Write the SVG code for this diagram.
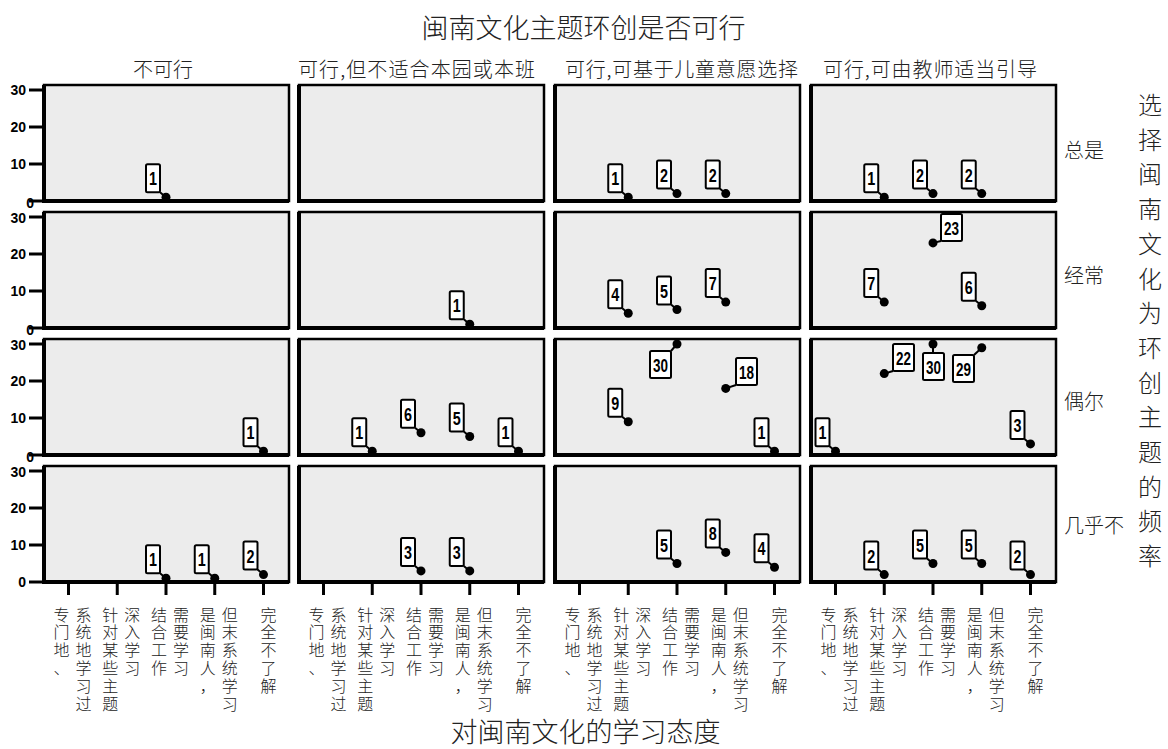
<svg xmlns="http://www.w3.org/2000/svg" width="1168" height="749" viewBox="0 0 1168 749">
<style>
.bg{fill:#ffffff}
.panel{fill:#ececec;stroke:#000;stroke-width:2.5}
.axis{stroke:#000;stroke-width:4;fill:none}
.tick{stroke:#000;stroke-width:3}
.pt{fill:#000}
.box{fill:#fff;stroke:#000;stroke-width:2}
.lead{stroke:#000;stroke-width:2;fill:none}
.num{font-family:"Liberation Sans",Arial,sans-serif;font-weight:bold;font-size:19px;text-anchor:middle;fill:#000}
.ynum{font-family:"Liberation Sans",Arial,sans-serif;font-weight:bold;font-size:14px;text-anchor:end;dominant-baseline:central;fill:#000}
.cjk{font-family:"Noto Sans CJK SC","Noto Sans",sans-serif;font-weight:300;fill:#222;dominant-baseline:central}
.t1{font-size:27px;text-anchor:middle}
.t2{font-size:20px}
.t3{font-size:24px;text-anchor:middle}
.xl{font-size:16px;text-anchor:middle}
</style>
<rect class="bg" x="0" y="0" width="1168" height="749"/>

<g id="titles">
<text class="cjk t1" x="583.5" y="26.5">闽南文化主题环创是否可行</text>
<text class="cjk t2" x="163" y="68.5" text-anchor="middle">不可行</text>
<text class="cjk t2" x="298" y="68.5" textLength="237" lengthAdjust="spacing">可行,但不适合本园或本班</text>
<text class="cjk t2" x="565" y="68.5" textLength="233" lengthAdjust="spacing">可行,可基于儿童意愿选择</text>
<text class="cjk t2" x="823" y="68.5" textLength="214" lengthAdjust="spacing">可行,可由教师适当引导</text>
<text class="cjk t2" x="1064" y="149">总是</text>
<text class="cjk t2" x="1064" y="274">经常</text>
<text class="cjk t2" x="1064" y="400">偶尔</text>
<text class="cjk t2" x="1064" y="524">几乎不</text>
<text class="cjk t3" x="1150 1150 1150 1150 1150 1150 1150 1150 1150 1150 1150 1150 1150 1150" y="103.5 138.2 172.9 207.6 242.3 277 311.7 346.4 381.1 415.8 450.5 485.2 519.9 554.6">选择闽南文化为环创主题的频率</text>
<text class="cjk t1" x="585.5" y="730" font-size="26">对闽南文化的学习态度</text>
</g>

<g id="y-axis">
<g class="tick">
<line x1="29" y1="90" x2="44" y2="90"/><line x1="29" y1="127" x2="44" y2="127"/><line x1="29" y1="164" x2="44" y2="164"/>
<line x1="29" y1="217" x2="44" y2="217"/><line x1="29" y1="254" x2="44" y2="254"/><line x1="29" y1="291" x2="44" y2="291"/>
<line x1="29" y1="344" x2="44" y2="344"/><line x1="29" y1="381" x2="44" y2="381"/><line x1="29" y1="418" x2="44" y2="418"/>
<line x1="29" y1="471" x2="44" y2="471"/><line x1="29" y1="508" x2="44" y2="508"/><line x1="29" y1="545" x2="44" y2="545"/>
<line x1="29" y1="201" x2="44" y2="201"/><line x1="29" y1="328" x2="44" y2="328"/><line x1="29" y1="455" x2="44" y2="455"/><line x1="29" y1="582" x2="44" y2="582"/>
</g>
<text class="ynum" x="26" y="90">30</text><text class="ynum" x="26" y="127">20</text><text class="ynum" x="26" y="164">10</text><text class="ynum" x="34" y="203">0</text>
<text class="ynum" x="26" y="218">30</text><text class="ynum" x="26" y="254">20</text><text class="ynum" x="26" y="291">10</text><text class="ynum" x="34" y="330">0</text>
<text class="ynum" x="26" y="345">30</text><text class="ynum" x="26" y="381">20</text><text class="ynum" x="26" y="418">10</text><text class="ynum" x="34" y="457">0</text>
<text class="ynum" x="26" y="472">30</text><text class="ynum" x="26" y="508">20</text><text class="ynum" x="26" y="545">10</text><text class="ynum" x="26" y="582">0</text>
</g>

<g id="panels">
<g id="panel-r1-c1"><rect class="panel" x="44" y="85" width="245" height="116"/><path class="axis" d="M44,85V201H289"/></g>
<g id="panel-r1-c2"><rect class="panel" x="299" y="85" width="245" height="116"/><path class="axis" d="M299,85V201H544"/></g>
<g id="panel-r1-c3"><rect class="panel" x="555" y="85" width="245" height="116"/><path class="axis" d="M555,85V201H800"/></g>
<g id="panel-r1-c4"><rect class="panel" x="811" y="85" width="245" height="116"/><path class="axis" d="M811,85V201H1056"/></g>
<g id="panel-r2-c1"><rect class="panel" x="44" y="212" width="245" height="116"/><path class="axis" d="M44,212V328H289"/></g>
<g id="panel-r2-c2"><rect class="panel" x="299" y="212" width="245" height="116"/><path class="axis" d="M299,212V328H544"/></g>
<g id="panel-r2-c3"><rect class="panel" x="555" y="212" width="245" height="116"/><path class="axis" d="M555,212V328H800"/></g>
<g id="panel-r2-c4"><rect class="panel" x="811" y="212" width="245" height="116"/><path class="axis" d="M811,212V328H1056"/></g>
<g id="panel-r3-c1"><rect class="panel" x="44" y="339" width="245" height="116"/><path class="axis" d="M44,339V455H289"/></g>
<g id="panel-r3-c2"><rect class="panel" x="299" y="339" width="245" height="116"/><path class="axis" d="M299,339V455H544"/></g>
<g id="panel-r3-c3"><rect class="panel" x="555" y="339" width="245" height="116"/><path class="axis" d="M555,339V455H800"/></g>
<g id="panel-r3-c4"><rect class="panel" x="811" y="339" width="245" height="116"/><path class="axis" d="M811,339V455H1056"/></g>
<g id="panel-r4-c1"><rect class="panel" x="44" y="466" width="245" height="116"/><path class="axis" d="M44,466V582H289"/></g>
<g id="panel-r4-c2"><rect class="panel" x="299" y="466" width="245" height="116"/><path class="axis" d="M299,466V582H544"/></g>
<g id="panel-r4-c3"><rect class="panel" x="555" y="466" width="245" height="116"/><path class="axis" d="M555,466V582H800"/></g>
<g id="panel-r4-c4"><rect class="panel" x="811" y="466" width="245" height="116"/><path class="axis" d="M811,466V582H1056"/></g>
</g>

<g id="x-ticks" class="tick">
<line x1="68.5" y1="583" x2="68.5" y2="595"/><line x1="117.25" y1="583" x2="117.25" y2="595"/><line x1="166" y1="583" x2="166" y2="595"/><line x1="214.75" y1="583" x2="214.75" y2="595"/><line x1="263.5" y1="583" x2="263.5" y2="595"/>
<line x1="323.5" y1="583" x2="323.5" y2="595"/><line x1="372.25" y1="583" x2="372.25" y2="595"/><line x1="421" y1="583" x2="421" y2="595"/><line x1="469.75" y1="583" x2="469.75" y2="595"/><line x1="518.5" y1="583" x2="518.5" y2="595"/>
<line x1="579.5" y1="583" x2="579.5" y2="595"/><line x1="628.25" y1="583" x2="628.25" y2="595"/><line x1="677" y1="583" x2="677" y2="595"/><line x1="725.75" y1="583" x2="725.75" y2="595"/><line x1="774.5" y1="583" x2="774.5" y2="595"/>
<line x1="835.5" y1="583" x2="835.5" y2="595"/><line x1="884.25" y1="583" x2="884.25" y2="595"/><line x1="933" y1="583" x2="933" y2="595"/><line x1="981.75" y1="583" x2="981.75" y2="595"/><line x1="1030.5" y1="583" x2="1030.5" y2="595"/>
</g>

<g id="x-labels">
<text class="cjk xl" x="61.5 61.5 61.5 61.5" y="613.5 631.3 649.1 666.9">专门地、</text>
<text class="cjk xl" x="83.5 83.5 83.5 83.5 83.5 83.5" y="613.5 631.3 649.1 666.9 684.7 702.5">系统地学习过</text>
<text class="cjk xl" x="110.25 110.25 110.25 110.25 110.25 110.25" y="613.5 631.3 649.1 666.9 684.7 702.5">针对某些主题</text>
<text class="cjk xl" x="132.25 132.25 132.25 132.25" y="613.5 631.3 649.1 666.9">深入学习</text>
<text class="cjk xl" x="159 159 159 159" y="613.5 631.3 649.1 666.9">结合工作</text>
<text class="cjk xl" x="181 181 181 181" y="613.5 631.3 649.1 666.9">需要学习</text>
<text class="cjk xl" x="207.75 207.75 207.75 207.75 207.75" y="613.5 631.3 649.1 666.9 684.7">是闽南人，</text>
<text class="cjk xl" x="229.75 229.75 229.75 229.75 229.75 229.75" y="613.5 631.3 649.1 666.9 684.7 702.5">但末系统学习</text>
<text class="cjk xl" x="268.5 268.5 268.5 268.5 268.5" y="613.5 631.3 649.1 666.9 684.7">完全不了解</text>

<text class="cjk xl" x="316.5 316.5 316.5 316.5" y="613.5 631.3 649.1 666.9">专门地、</text>
<text class="cjk xl" x="338.5 338.5 338.5 338.5 338.5 338.5" y="613.5 631.3 649.1 666.9 684.7 702.5">系统地学习过</text>
<text class="cjk xl" x="365.25 365.25 365.25 365.25 365.25 365.25" y="613.5 631.3 649.1 666.9 684.7 702.5">针对某些主题</text>
<text class="cjk xl" x="387.25 387.25 387.25 387.25" y="613.5 631.3 649.1 666.9">深入学习</text>
<text class="cjk xl" x="414 414 414 414" y="613.5 631.3 649.1 666.9">结合工作</text>
<text class="cjk xl" x="436 436 436 436" y="613.5 631.3 649.1 666.9">需要学习</text>
<text class="cjk xl" x="462.75 462.75 462.75 462.75 462.75" y="613.5 631.3 649.1 666.9 684.7">是闽南人，</text>
<text class="cjk xl" x="484.75 484.75 484.75 484.75 484.75 484.75" y="613.5 631.3 649.1 666.9 684.7 702.5">但末系统学习</text>
<text class="cjk xl" x="523.5 523.5 523.5 523.5 523.5" y="613.5 631.3 649.1 666.9 684.7">完全不了解</text>

<text class="cjk xl" x="572.5 572.5 572.5 572.5" y="613.5 631.3 649.1 666.9">专门地、</text>
<text class="cjk xl" x="594.5 594.5 594.5 594.5 594.5 594.5" y="613.5 631.3 649.1 666.9 684.7 702.5">系统地学习过</text>
<text class="cjk xl" x="621.25 621.25 621.25 621.25 621.25 621.25" y="613.5 631.3 649.1 666.9 684.7 702.5">针对某些主题</text>
<text class="cjk xl" x="643.25 643.25 643.25 643.25" y="613.5 631.3 649.1 666.9">深入学习</text>
<text class="cjk xl" x="670 670 670 670" y="613.5 631.3 649.1 666.9">结合工作</text>
<text class="cjk xl" x="692 692 692 692" y="613.5 631.3 649.1 666.9">需要学习</text>
<text class="cjk xl" x="718.75 718.75 718.75 718.75 718.75" y="613.5 631.3 649.1 666.9 684.7">是闽南人，</text>
<text class="cjk xl" x="740.75 740.75 740.75 740.75 740.75 740.75" y="613.5 631.3 649.1 666.9 684.7 702.5">但末系统学习</text>
<text class="cjk xl" x="779.5 779.5 779.5 779.5 779.5" y="613.5 631.3 649.1 666.9 684.7">完全不了解</text>

<text class="cjk xl" x="828.5 828.5 828.5 828.5" y="613.5 631.3 649.1 666.9">专门地、</text>
<text class="cjk xl" x="850.5 850.5 850.5 850.5 850.5 850.5" y="613.5 631.3 649.1 666.9 684.7 702.5">系统地学习过</text>
<text class="cjk xl" x="877.25 877.25 877.25 877.25 877.25 877.25" y="613.5 631.3 649.1 666.9 684.7 702.5">针对某些主题</text>
<text class="cjk xl" x="899.25 899.25 899.25 899.25" y="613.5 631.3 649.1 666.9">深入学习</text>
<text class="cjk xl" x="926 926 926 926" y="613.5 631.3 649.1 666.9">结合工作</text>
<text class="cjk xl" x="948 948 948 948" y="613.5 631.3 649.1 666.9">需要学习</text>
<text class="cjk xl" x="974.75 974.75 974.75 974.75 974.75" y="613.5 631.3 649.1 666.9 684.7">是闽南人，</text>
<text class="cjk xl" x="996.75 996.75 996.75 996.75 996.75 996.75" y="613.5 631.3 649.1 666.9 684.7 702.5">但末系统学习</text>
<text class="cjk xl" x="1035.5 1035.5 1035.5 1035.5 1035.5" y="613.5 631.3 649.1 666.9 684.7">完全不了解</text>
</g>

<g id="connectors" class="lead">
<line x1="160" y1="192.3" x2="166" y2="197.3"/>
<line x1="622.25" y1="192.3" x2="628.25" y2="197.3"/>
<line x1="671" y1="188.6" x2="677" y2="193.6"/>
<line x1="719.75" y1="188.6" x2="725.75" y2="193.6"/>
<line x1="878.25" y1="192.3" x2="884.25" y2="197.3"/>
<line x1="927" y1="188.6" x2="933" y2="193.6"/>
<line x1="975.75" y1="188.6" x2="981.75" y2="193.6"/>
<line x1="463.75" y1="319.3" x2="469.75" y2="324.3"/>
<line x1="622.25" y1="308.2" x2="628.25" y2="313.2"/>
<line x1="671" y1="304.5" x2="677" y2="309.5"/>
<line x1="719.75" y1="297.1" x2="725.75" y2="302.1"/>
<line x1="878.25" y1="297.1" x2="884.25" y2="302.1"/>
<line x1="975.75" y1="300.8" x2="981.75" y2="305.8"/>
<line x1="941" y1="241" x2="933" y2="242.9"/>
<line x1="257.5" y1="446.3" x2="263.5" y2="451.3"/>
<line x1="366.25" y1="446.3" x2="372.25" y2="451.3"/>
<line x1="415" y1="427.8" x2="421" y2="432.8"/>
<line x1="463.75" y1="431.5" x2="469.75" y2="436.5"/>
<line x1="512.5" y1="446.3" x2="518.5" y2="451.3"/>
<line x1="622.25" y1="416.7" x2="628.25" y2="421.7"/>
<line x1="671" y1="351" x2="677" y2="344"/>
<line x1="736" y1="385" x2="725.75" y2="388.4"/>
<line x1="768.5" y1="446.3" x2="774.5" y2="451.3"/>
<line x1="829.5" y1="446.3" x2="835.5" y2="451.3"/>
<line x1="893" y1="371" x2="884.25" y2="373.6"/>
<line x1="933" y1="353" x2="933" y2="344"/>
<line x1="974" y1="355" x2="981.75" y2="347.7"/>
<line x1="1024.5" y1="438.9" x2="1030.5" y2="443.9"/>
<line x1="160" y1="573.3" x2="166" y2="578.3"/>
<line x1="208.75" y1="573.3" x2="214.75" y2="578.3"/>
<line x1="257.5" y1="569.6" x2="263.5" y2="574.6"/>
<line x1="415" y1="565.9" x2="421" y2="570.9"/>
<line x1="463.75" y1="565.9" x2="469.75" y2="570.9"/>
<line x1="671" y1="558.5" x2="677" y2="563.5"/>
<line x1="719.75" y1="547.4" x2="725.75" y2="552.4"/>
<line x1="768.5" y1="562.2" x2="774.5" y2="567.2"/>
<line x1="878.25" y1="569.6" x2="884.25" y2="574.6"/>
<line x1="927" y1="558.5" x2="933" y2="563.5"/>
<line x1="975.75" y1="558.5" x2="981.75" y2="563.5"/>
<line x1="1024.5" y1="569.6" x2="1030.5" y2="574.6"/>
</g>

<g id="points" class="pt">
<circle cx="166" cy="197.3" r="4.5"/><circle cx="628.25" cy="197.3" r="4.5"/><circle cx="677" cy="193.6" r="4.5"/><circle cx="725.75" cy="193.6" r="4.5"/>
<circle cx="884.25" cy="197.3" r="4.5"/><circle cx="933" cy="193.6" r="4.5"/><circle cx="981.75" cy="193.6" r="4.5"/>
<circle cx="469.75" cy="324.3" r="4.5"/><circle cx="628.25" cy="313.2" r="4.5"/><circle cx="677" cy="309.5" r="4.5"/><circle cx="725.75" cy="302.1" r="4.5"/>
<circle cx="884.25" cy="302.1" r="4.5"/><circle cx="933" cy="242.9" r="4.5"/><circle cx="981.75" cy="305.8" r="4.5"/>
<circle cx="263.5" cy="451.3" r="4.5"/><circle cx="372.25" cy="451.3" r="4.5"/><circle cx="421" cy="432.8" r="4.5"/><circle cx="469.75" cy="436.5" r="4.5"/><circle cx="518.5" cy="451.3" r="4.5"/>
<circle cx="628.25" cy="421.7" r="4.5"/><circle cx="677" cy="344" r="4.5"/><circle cx="725.75" cy="388.4" r="4.5"/><circle cx="774.5" cy="451.3" r="4.5"/>
<circle cx="835.5" cy="451.3" r="4.5"/><circle cx="884.25" cy="373.6" r="4.5"/><circle cx="933" cy="344" r="4.5"/><circle cx="981.75" cy="347.7" r="4.5"/><circle cx="1030.5" cy="443.9" r="4.5"/>
<circle cx="166" cy="578.3" r="4.5"/><circle cx="214.75" cy="578.3" r="4.5"/><circle cx="263.5" cy="574.6" r="4.5"/>
<circle cx="421" cy="570.9" r="4.5"/><circle cx="469.75" cy="570.9" r="4.5"/>
<circle cx="677" cy="563.5" r="4.5"/><circle cx="725.75" cy="552.4" r="4.5"/><circle cx="774.5" cy="567.2" r="4.5"/>
<circle cx="884.25" cy="574.6" r="4.5"/><circle cx="933" cy="563.5" r="4.5"/><circle cx="981.75" cy="563.5" r="4.5"/><circle cx="1030.5" cy="574.6" r="4.5"/>
</g>

<g id="labels">
<g id="lbl-r1c1-3"><rect class="box" x="146" y="164.3" width="14" height="28" rx="1.5"/><text class="num" x="153" y="185.3" textLength="8" lengthAdjust="spacingAndGlyphs">1</text></g>
<g id="lbl-r1c3-2"><rect class="box" x="608.25" y="164.3" width="14" height="28" rx="1.5"/><text class="num" x="615.25" y="185.3" textLength="8" lengthAdjust="spacingAndGlyphs">1</text></g>
<g id="lbl-r1c3-3"><rect class="box" x="657" y="160.6" width="14" height="28" rx="1.5"/><text class="num" x="664" y="181.6" textLength="8" lengthAdjust="spacingAndGlyphs">2</text></g>
<g id="lbl-r1c3-4"><rect class="box" x="705.75" y="160.6" width="14" height="28" rx="1.5"/><text class="num" x="712.75" y="181.6" textLength="8" lengthAdjust="spacingAndGlyphs">2</text></g>
<g id="lbl-r1c4-2"><rect class="box" x="864.25" y="164.3" width="14" height="28" rx="1.5"/><text class="num" x="871.25" y="185.3" textLength="8" lengthAdjust="spacingAndGlyphs">1</text></g>
<g id="lbl-r1c4-3"><rect class="box" x="913" y="160.6" width="14" height="28" rx="1.5"/><text class="num" x="920" y="181.6" textLength="8" lengthAdjust="spacingAndGlyphs">2</text></g>
<g id="lbl-r1c4-4"><rect class="box" x="961.75" y="160.6" width="14" height="28" rx="1.5"/><text class="num" x="968.75" y="181.6" textLength="8" lengthAdjust="spacingAndGlyphs">2</text></g>

<g id="lbl-r2c2-4"><rect class="box" x="449.75" y="291.3" width="14" height="28" rx="1.5"/><text class="num" x="456.75" y="312.3" textLength="8" lengthAdjust="spacingAndGlyphs">1</text></g>
<g id="lbl-r2c3-2"><rect class="box" x="608.25" y="280.2" width="14" height="28" rx="1.5"/><text class="num" x="615.25" y="301.2" textLength="8" lengthAdjust="spacingAndGlyphs">4</text></g>
<g id="lbl-r2c3-3"><rect class="box" x="657" y="276.5" width="14" height="28" rx="1.5"/><text class="num" x="664" y="297.5" textLength="8" lengthAdjust="spacingAndGlyphs">5</text></g>
<g id="lbl-r2c3-4"><rect class="box" x="705.75" y="269.1" width="14" height="28" rx="1.5"/><text class="num" x="712.75" y="290.1" textLength="8" lengthAdjust="spacingAndGlyphs">7</text></g>
<g id="lbl-r2c4-2"><rect class="box" x="864.25" y="269.1" width="14" height="28" rx="1.5"/><text class="num" x="871.25" y="290.1" textLength="8" lengthAdjust="spacingAndGlyphs">7</text></g>
<g id="lbl-r2c4-3"><rect class="box" x="941" y="214" width="21" height="27" rx="1.5"/><text class="num" x="951.5" y="234.5" textLength="15" lengthAdjust="spacingAndGlyphs">23</text></g>
<g id="lbl-r2c4-4"><rect class="box" x="961.75" y="272.8" width="14" height="28" rx="1.5"/><text class="num" x="968.75" y="293.8" textLength="8" lengthAdjust="spacingAndGlyphs">6</text></g>

<g id="lbl-r3c1-5"><rect class="box" x="243.5" y="418.3" width="14" height="28" rx="1.5"/><text class="num" x="250.5" y="439.3" textLength="8" lengthAdjust="spacingAndGlyphs">1</text></g>
<g id="lbl-r3c2-2"><rect class="box" x="352.25" y="418.3" width="14" height="28" rx="1.5"/><text class="num" x="359.25" y="439.3" textLength="8" lengthAdjust="spacingAndGlyphs">1</text></g>
<g id="lbl-r3c2-3"><rect class="box" x="401" y="399.8" width="14" height="28" rx="1.5"/><text class="num" x="408" y="420.8" textLength="8" lengthAdjust="spacingAndGlyphs">6</text></g>
<g id="lbl-r3c2-4"><rect class="box" x="449.75" y="403.5" width="14" height="28" rx="1.5"/><text class="num" x="456.75" y="424.5" textLength="8" lengthAdjust="spacingAndGlyphs">5</text></g>
<g id="lbl-r3c2-5"><rect class="box" x="498.5" y="418.3" width="14" height="28" rx="1.5"/><text class="num" x="505.5" y="439.3" textLength="8" lengthAdjust="spacingAndGlyphs">1</text></g>
<g id="lbl-r3c3-2"><rect class="box" x="608.25" y="388.7" width="14" height="28" rx="1.5"/><text class="num" x="615.25" y="409.7" textLength="8" lengthAdjust="spacingAndGlyphs">9</text></g>
<g id="lbl-r3c3-3"><rect class="box" x="650" y="351" width="21" height="27" rx="1.5"/><text class="num" x="660.5" y="371.5" textLength="15" lengthAdjust="spacingAndGlyphs">30</text></g>
<g id="lbl-r3c3-4"><rect class="box" x="736" y="358" width="21" height="27" rx="1.5"/><text class="num" x="746.5" y="378.5" textLength="15" lengthAdjust="spacingAndGlyphs">18</text></g>
<g id="lbl-r3c3-5"><rect class="box" x="754.5" y="418.3" width="14" height="28" rx="1.5"/><text class="num" x="761.5" y="439.3" textLength="8" lengthAdjust="spacingAndGlyphs">1</text></g>
<g id="lbl-r3c4-1"><rect class="box" x="815.5" y="418.3" width="14" height="28" rx="1.5"/><text class="num" x="822.5" y="439.3" textLength="8" lengthAdjust="spacingAndGlyphs">1</text></g>
<g id="lbl-r3c4-2"><rect class="box" x="893" y="344" width="21" height="27" rx="1.5"/><text class="num" x="903.5" y="364.5" textLength="15" lengthAdjust="spacingAndGlyphs">22</text></g>
<g id="lbl-r3c4-3"><rect class="box" x="923" y="353" width="21" height="27" rx="1.5"/><text class="num" x="933.5" y="373.5" textLength="15" lengthAdjust="spacingAndGlyphs">30</text></g>
<g id="lbl-r3c4-4"><rect class="box" x="953" y="355" width="21" height="27" rx="1.5"/><text class="num" x="963.5" y="375.5" textLength="15" lengthAdjust="spacingAndGlyphs">29</text></g>
<g id="lbl-r3c4-5"><rect class="box" x="1010.5" y="410.9" width="14" height="28" rx="1.5"/><text class="num" x="1017.5" y="431.9" textLength="8" lengthAdjust="spacingAndGlyphs">3</text></g>

<g id="lbl-r4c1-3"><rect class="box" x="146" y="545.3" width="14" height="28" rx="1.5"/><text class="num" x="153" y="566.3" textLength="8" lengthAdjust="spacingAndGlyphs">1</text></g>
<g id="lbl-r4c1-4"><rect class="box" x="194.75" y="545.3" width="14" height="28" rx="1.5"/><text class="num" x="201.75" y="566.3" textLength="8" lengthAdjust="spacingAndGlyphs">1</text></g>
<g id="lbl-r4c1-5"><rect class="box" x="243.5" y="541.6" width="14" height="28" rx="1.5"/><text class="num" x="250.5" y="562.6" textLength="8" lengthAdjust="spacingAndGlyphs">2</text></g>
<g id="lbl-r4c2-3"><rect class="box" x="401" y="537.9" width="14" height="28" rx="1.5"/><text class="num" x="408" y="558.9" textLength="8" lengthAdjust="spacingAndGlyphs">3</text></g>
<g id="lbl-r4c2-4"><rect class="box" x="449.75" y="537.9" width="14" height="28" rx="1.5"/><text class="num" x="456.75" y="558.9" textLength="8" lengthAdjust="spacingAndGlyphs">3</text></g>
<g id="lbl-r4c3-3"><rect class="box" x="657" y="530.5" width="14" height="28" rx="1.5"/><text class="num" x="664" y="551.5" textLength="8" lengthAdjust="spacingAndGlyphs">5</text></g>
<g id="lbl-r4c3-4"><rect class="box" x="705.75" y="519.4" width="14" height="28" rx="1.5"/><text class="num" x="712.75" y="540.4" textLength="8" lengthAdjust="spacingAndGlyphs">8</text></g>
<g id="lbl-r4c3-5"><rect class="box" x="754.5" y="534.2" width="14" height="28" rx="1.5"/><text class="num" x="761.5" y="555.2" textLength="8" lengthAdjust="spacingAndGlyphs">4</text></g>
<g id="lbl-r4c4-2"><rect class="box" x="864.25" y="541.6" width="14" height="28" rx="1.5"/><text class="num" x="871.25" y="562.6" textLength="8" lengthAdjust="spacingAndGlyphs">2</text></g>
<g id="lbl-r4c4-3"><rect class="box" x="913" y="530.5" width="14" height="28" rx="1.5"/><text class="num" x="920" y="551.5" textLength="8" lengthAdjust="spacingAndGlyphs">5</text></g>
<g id="lbl-r4c4-4"><rect class="box" x="961.75" y="530.5" width="14" height="28" rx="1.5"/><text class="num" x="968.75" y="551.5" textLength="8" lengthAdjust="spacingAndGlyphs">5</text></g>
<g id="lbl-r4c4-5"><rect class="box" x="1010.5" y="541.6" width="14" height="28" rx="1.5"/><text class="num" x="1017.5" y="562.6" textLength="8" lengthAdjust="spacingAndGlyphs">2</text></g>
</g>
</svg>
